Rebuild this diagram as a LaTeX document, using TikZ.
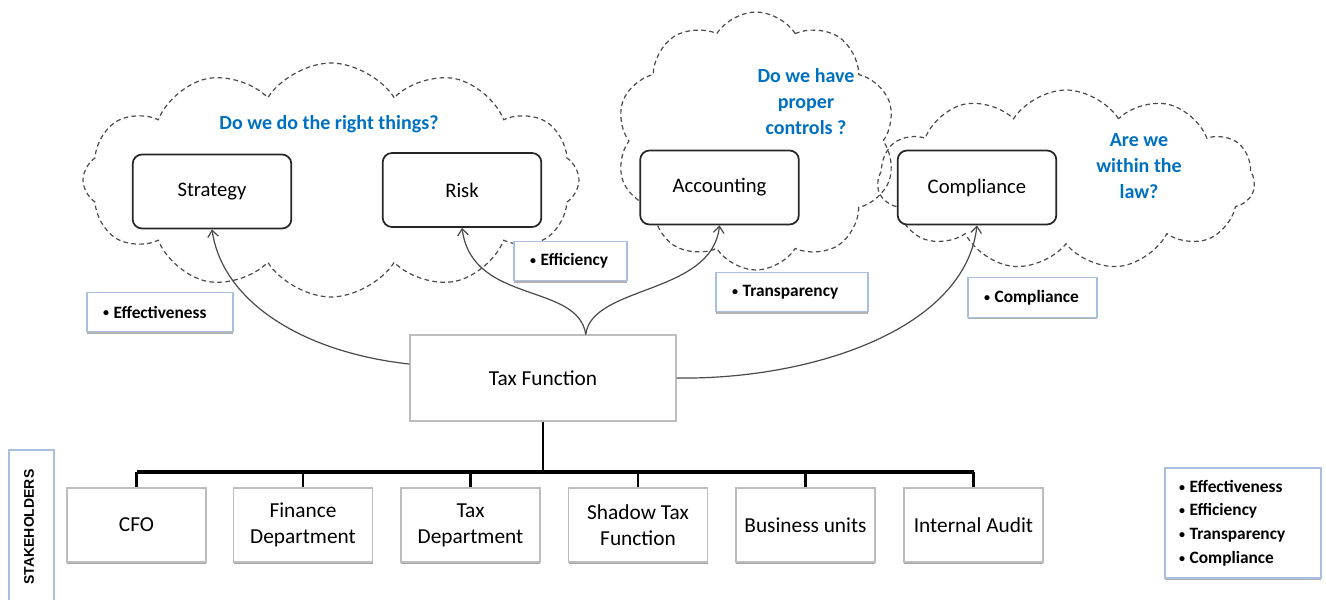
\documentclass[tikz,border=0pt]{standalone}
\usepackage{fontspec}
\setmainfont{Carlito}
\newfontfamily\arialf{Liberation Sans}
\usetikzlibrary{shapes.symbols,shadows,calc,arrows.meta}
\definecolor{qblue}{HTML}{0070C0}
\definecolor{lblue}{HTML}{A8BFDF}
\definecolor{bgray}{HTML}{BDBDBD}
\definecolor{cgray}{HTML}{4A4A4A}
\newcommand{\tb}{{\fontsize{9}{9}\selectfont\raisebox{0.8pt}{•}}\kern3.5pt}
\begin{document}
\begin{tikzpicture}[x=0.75pt,y=-0.75pt,
  cloudshape/.style={cloud, cloud puffs=#1, cloud puff arc=115, cloud ignores aspect, draw=cgray, dash pattern=on 3.5pt off 2.5pt, line width=0.9pt, inner sep=0pt},
  areabox/.style={draw=black!85, line width=1.3pt, rounded corners=7pt, fill=white, minimum width=119pt, minimum height=55.5pt, font=\fontsize{15.5}{18}\selectfont},
  qtext/.style={text=qblue, font=\bfseries\fontsize{15}{19.5}\selectfont, align=center},
  tagbox/.style={draw=lblue, line width=0.8pt, fill=white, align=left, inner xsep=12pt, minimum height=29.5pt, font=\bfseries\fontsize{13}{17.8}\selectfont,
     drop shadow={shadow xshift=0pt, shadow yshift=-1.6pt, fill=black!30, opacity=1}},
  stakebox/.style={draw=bgray, line width=0.9pt, fill=white, minimum width=104.25pt, minimum height=55.5pt, align=center, font=\fontsize{16}{19.5}\selectfont,
     drop shadow={shadow xshift=0pt, shadow yshift=-1.4pt, fill=black!35, opacity=1}},
  link/.style={draw=cgray, line width=0.9pt},
  arrowlink/.style={link, -{Straight Barb[length=5pt, width=8pt]}},
  treeline/.style={draw=black, line width=1.6pt}
]
\useasboundingbox (0,0) rectangle (1326,600);

% clouds
\node[cloudshape=12, minimum width=372pt, minimum height=175.5pt] (c1) at (331,180) {};
\node[cloudshape=10, minimum width=210pt, minimum height=193.5pt] (c2) at (756,141) {};
\node[cloudshape=11, minimum width=283pt, minimum height=135pt] (c3) at (1066,180) {};

% questions
\node[qtext] (q1) at (329,124) {Do we do the right things?};
\node[qtext] (q2) at (806,102) {Do we have\\proper\\controls ?};
\node[qtext] (q3) at (1139,166) {Are we\\within the\\law?};

% area boxes
\node[areabox] (strat) at (212,191.5) {Strategy};
\node[areabox] (risk) at (462,190) {Risk};
\node[areabox] (acc) at (719.5,187.5) {Accounting};
\node[areabox] (comp) at (977,187.5) {Compliance};

% tax function
\node[draw=bgray, line width=0.9pt, fill=white, minimum width=199.5pt, minimum height=64.5pt, font=\fontsize{16}{19.5}\selectfont] (tax) at (543,378) {Tax Function};

% connectors
\coordinate (tw) at ($(tax.north west)!0.34!(tax.south west)$);
\coordinate (cusp) at ($(tax.north west)!0.66!(tax.north east)$);
\draw[arrowlink] (tw) .. controls (300,352) and (222,300) .. (strat.south);
\draw[arrowlink] (cusp) .. controls (578,282) and (472,305) .. (risk.south);
\draw[arrowlink] (cusp) .. controls (592,285) and (712,295) .. (acc.south);
\draw[arrowlink] (tax.east) .. controls (810,380) and (965,330) .. (comp.south);

% tag boxes
\node[tagbox, text width=85.5pt] (t1) at (160,312) {\tb Effectiveness};
\node[tagbox, text width=60.75pt] (t2) at (570.5,261) {\tb Efficiency};
\node[tagbox, text width=90pt] (t3) at (792,292) {\tb Transparency};
\node[tagbox, text width=72.75pt] (t4) at (1032.5,297.5) {\tb Compliance};

% stakeholders
\node[stakebox] (cfo) at (136.5,525) {CFO};
\node[stakebox] (fin) at (303,525) {Finance\\Department};
\node[stakebox] (tdep) at (470.5,525) {Tax\\Department};
\node[stakebox] (shadow) at (638,525) {Shadow Tax\\Function};
\node[stakebox] (bu) at (805.5,525) {Business units};
\node[stakebox] (ia) at (973.5,525) {Internal Audit};

\coordinate (hub) at (543,472);
\draw[treeline, line width=2.2pt] (tax.south) -- (hub);
\draw[treeline, line width=2.4pt] (cfo.north |- hub) -- (ia.north |- hub);
\foreach \b in {cfo,fin,tdep,shadow,bu,ia}
  \draw[treeline] (\b.north |- hub) -- (\b.north);

% stakeholders label
\draw[draw=lblue, line width=0.8pt] (9,600) -- (9,450) -- (54,450) -- (54,600);
\node[rotate=90, font=\arialf\bfseries\fontsize{10.5}{12}\selectfont] (stk) at (29,527) {STAKEHOLDERS};

% legend
\node[tagbox, inner xsep=10.5pt, text width=96pt, minimum height=82.5pt, drop shadow={shadow xshift=0pt, shadow yshift=-1pt, fill=black!15, opacity=1}] (leg) at (1243,523) {\tb Effectiveness\\\tb Efficiency\\\tb Transparency\\\tb Compliance};
\end{tikzpicture}
\end{document}
